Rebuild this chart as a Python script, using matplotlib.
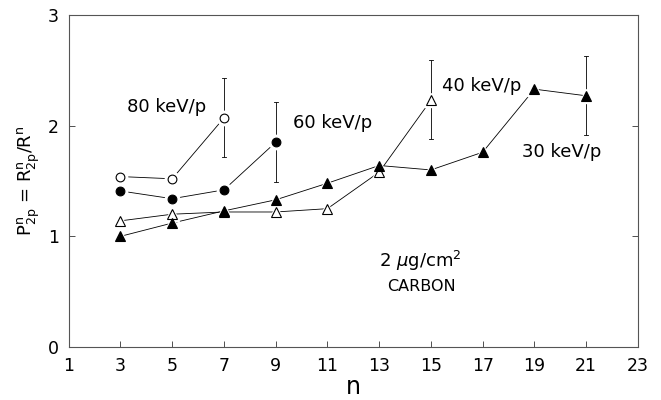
import matplotlib.pyplot as plt

# P_2p^n ratios versus n for each beam energy
n_80 = [3, 5, 7]
p_80 = [1.54, 1.52, 2.07]

n_60 = [3, 5, 7, 9]
p_60 = [1.41, 1.34, 1.42, 1.85]

n_40 = [3, 5, 7, 9, 11, 13, 15]
p_40 = [1.14, 1.20, 1.22, 1.22, 1.25, 1.58, 2.23]

n_30 = [3, 5, 7, 9, 11, 13, 15, 17, 19, 21]
p_30 = [1.00, 1.12, 1.23, 1.33, 1.48, 1.64, 1.60, 1.76, 2.33, 2.27]

# error bars (point, lower, upper)
err_80 = (7, 1.72, 2.43)
err_60 = (9, 1.49, 2.21)
err_40 = (15, 1.88, 2.59)
err_30 = (21, 1.92, 2.63)

plt.rcParams['font.family'] = 'DejaVu Sans'
fig = plt.figure(figsize=(6.61, 4.0), dpi=100)
ax = fig.add_axes([0.104, 0.1325, 0.861, 0.83])

series = [
    (n_80, p_80, 'o', 'white', 6.3, err_80),
    (n_60, p_60, 'o', 'black', 6.3, err_60),
    (n_40, p_40, '^', 'white', 6.7, err_40),
    (n_30, p_30, '^', 'black', 6.7, err_30),
]

for xs, ys, mk, fc, ms, err in series:
    ax.plot(xs, ys, color='black', lw=0.6, zorder=1)
    x0, lo, hi = err
    ax.vlines(x0, lo, hi, color='black', lw=0.6, zorder=1)
    for yc in (lo, hi):
        ax.plot([x0 - 0.08, x0 + 0.08], [yc, yc], color='black', lw=0.6, zorder=1)

for xs, ys, mk, fc, ms, err in series:
    # white halo so the lines stop short of each marker
    ax.plot(xs, ys, ls='none', marker=mk, ms=ms + 4, mfc='white', mec='white', zorder=2)

for xs, ys, mk, fc, ms, err in series:
    ax.plot(xs, ys, ls='none', marker=mk, ms=ms, mfc=fc, mec='black', mew=0.8, zorder=3)

fs = 13
ax.text(4.8, 2.17, '80 keV/p', fontsize=fs, ha='center', va='center')
ax.text(11.2, 2.02, '60 keV/p', fontsize=fs, ha='center', va='center')
ax.text(16.95, 2.36, '40 keV/p', fontsize=fs, ha='center', va='center')
ax.text(20.05, 1.76, '30 keV/p', fontsize=fs, ha='center', va='center')
ax.text(14.6, 0.78, r'2 $\mu$g/cm$^2$', fontsize=fs, ha='center', va='center')
ax.text(14.65, 0.55, 'CARBON', fontsize=11.5, ha='center', va='center')

ax.set_xlim(1, 23)
ax.set_ylim(0, 3)
ax.set_xticks(range(1, 24, 2))
ax.set_yticks([0, 1, 2, 3])
ax.tick_params(direction='in', length=4, width=0.6, labelsize=12.5, colors='#333333',
               labelcolor='black')
ax.tick_params(axis='x', pad=7)
ax.tick_params(axis='y', pad=7, right=True)
for s in ax.spines.values():
    s.set_linewidth(0.8)
    s.set_color('#555555')

ax.set_xlabel('n', fontsize=17, labelpad=0)
ax.set_ylabel(r'P$^{\rm n}_{\rm 2p}$ = R$^{\rm n}_{\rm 2p}$/R$^{\rm n}$', fontsize=13, labelpad=4)

fig.savefig('out.png', dpi=100)
